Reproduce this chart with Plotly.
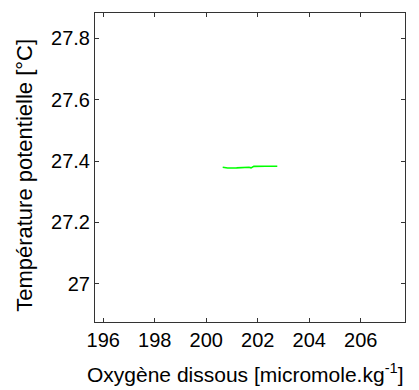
import plotly.graph_objects as go

oxygen = [200.64, 200.83, 201.18, 201.66, 201.74, 201.85, 202.30, 202.76]
temperature = [27.3800, 27.3775, 27.3778, 27.3800, 27.3778, 27.3828, 27.3830, 27.3830]

x_ticks = [196, 198, 200, 202, 204, 206]
y_ticks = [27.0, 27.2, 27.4, 27.6, 27.8]
y_tick_labels = ["27", "27.2", "27.4", "27.6", "27.8"]

x_title = "Oxygène dissous [micromole.kg<sup>-1</sup>]"
y_title = "Température potentielle [°C]"

font = "Liberation Sans, Arial, Helvetica, sans-serif"

fig = go.Figure()
fig.add_trace(go.Scatter(
    x=oxygen, y=temperature, mode="lines",
    line=dict(color="#00ff00", width=1.6),
    showlegend=False,
))

axis_common = dict(
    showline=True, linecolor="#333333", linewidth=1, mirror="ticks",
    ticks="inside", ticklen=4, tickcolor="#333333", tickwidth=1,
    showgrid=False, zeroline=False, automargin=False,
    tickfont=dict(family=font, size=20, color="black"),
)

fig.update_layout(
    width=411, height=382,
    margin=dict(l=87, r=14, t=5, b=68),
    paper_bgcolor="white", plot_bgcolor="white",
    font=dict(family=font, size=20, color="black"),
    xaxis=dict(range=[195.68, 207.72], tickvals=x_ticks, **axis_common),
    yaxis=dict(range=[26.876, 27.882], tickvals=y_ticks, ticktext=y_tick_labels,
               **axis_common),
    annotations=[
        dict(text=x_title, xref="paper", yref="paper", x=0.485, y=-0.166,
             xanchor="center", yanchor="middle", showarrow=False,
             font=dict(family=font, size=21, color="black")),
        dict(text=y_title, xref="paper", yref="paper", x=-0.226, y=0.476,
             xanchor="center", yanchor="middle", textangle=-90, showarrow=False,
             font=dict(family=font, size=22, color="black")),
    ],
)

fig.write_html("out.html")
